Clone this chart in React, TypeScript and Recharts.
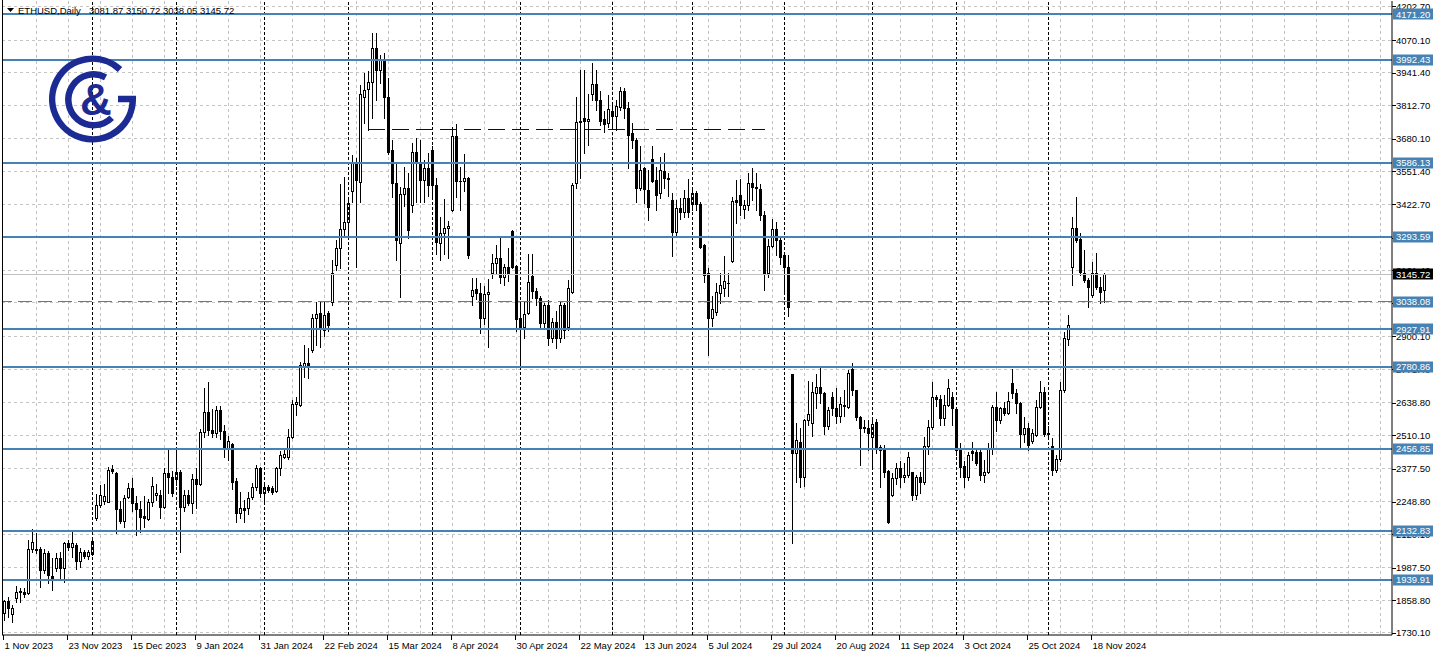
import React from 'react'
import { ComposedChart, Bar, XAxis, YAxis, CartesianGrid, ReferenceLine } from 'recharts'

// ETHUSD daily candles, 1 Nov 2023 .. 21 Nov 2024 (weekdays)
const OPEN = [
  1810, 1856, 1804, 1867, 1890, 1893, 1889, 2060, 2060, 2060, 1978, 2047, 1955, 1985, 2025, 1985, 2087, 2068, 2078, 2016,
  2051, 2032, 2041, 2183, 2235, 2252, 2248, 2378, 2360, 2218, 2173, 2265, 2301, 2242, 2218, 2190, 2180, 2248, 2276, 2275,
  2226, 2360, 2347, 2339, 2366, 2226, 2275, 2242, 2336, 2318, 2524, 2603, 2531, 2520, 2610, 2528, 2459, 2476, 2330, 2203,
  2222, 2222, 2266, 2305, 2380, 2281, 2305, 2301, 2291, 2380, 2426, 2426, 2502, 2634, 2630, 2782, 2797, 2847, 2972, 2992,
  2926, 2992, 3037, 3182, 3248, 3323, 3351, 3475, 3586, 3511, 3845, 3876, 3906, 4039, 3952, 3994, 3844, 3636, 3505, 3270,
  3462, 3485, 3419, 3630, 3584, 3518, 3564, 3636, 3498, 3270, 3307, 3327, 3399, 3691, 3515, 3512, 3524, 3060, 3086, 3071,
  2974, 3068, 3149, 3189, 3209, 3134, 3173, 3317, 3178, 2972, 2936, 2991, 3139, 3081, 3051, 2952, 3024, 2893, 2958, 2893,
  3024, 2939, 3075, 3505, 3748, 3761, 3752, 3857, 3897, 3833, 3758, 3741, 3790, 3772, 3805, 3868, 3800, 3702, 3675, 3487,
  3564, 3478, 3600, 3517, 3465, 3553, 3522, 3439, 3314, 3408, 3392, 3445, 3422, 3465, 3422, 3261, 3150, 2975, 2998, 3070,
  3093, 3113, 3198, 3439, 3460, 3402, 3419, 3505, 3492, 3481, 3379, 3152, 3257, 3323, 3281, 3222, 3173, 2752, 2439, 2485,
  2345, 2571, 2557, 2678, 2700, 2676, 2545, 2663, 2617, 2586, 2629, 2623, 2771, 2689, 2584, 2544, 2538, 2502, 2564, 2465,
  2459, 2371, 2275, 2341, 2380, 2347, 2353, 2367, 2275, 2344, 2327, 2468, 2544, 2662, 2652, 2577, 2630, 2663, 2613, 2452,
  2389, 2344, 2447, 2445, 2445, 2353, 2367, 2455, 2620, 2570, 2617, 2600, 2718, 2676, 2637, 2515, 2541, 2489, 2511, 2620,
  2682, 2521, 2468, 2373, 2415, 2689, 2889, 3176, 3327, 3284, 3150, 3123, 3064, 3152, 3097, 3081.87,
]
const HIGH = [
  1862, 1873, 1840, 1915, 1909, 1908, 2097, 2139, 2125, 2070, 2062, 2054, 2026, 2045, 2050, 2090, 2097, 2136, 2085, 2066,
  2058, 2058, 2100, 2277, 2314, 2320, 2384, 2393, 2367, 2250, 2275, 2321, 2340, 2271, 2252, 2270, 2260, 2345, 2320, 2295,
  2380, 2452, 2371, 2452, 2373, 2296, 2296, 2357, 2380, 2537, 2696, 2722, 2613, 2627, 2625, 2551, 2506, 2481, 2340, 2288,
  2255, 2288, 2321, 2395, 2387, 2314, 2314, 2310, 2387, 2448, 2462, 2535, 2650, 2660, 2800, 2866, 2856, 2990, 3037, 3037,
  3037, 3000, 3202, 3281, 3502, 3530, 3446, 3616, 3603, 3892, 3939, 3949, 4097, 4097, 4010, 4018, 3920, 3675, 3590, 3491,
  3568, 3544, 3665, 3682, 3675, 3597, 3623, 3650, 3524, 3370, 3442, 3355, 3726, 3738, 3568, 3620, 3530, 3131, 3131, 3110,
  3100, 3126, 3227, 3262, 3294, 3185, 3248, 3320, 3182, 3024, 3037, 3225, 3225, 3090, 3060, 3031, 3044, 2972, 2999, 3037,
  3031, 3122, 3507, 3847, 3952, 3950, 3858, 3978, 3950, 3870, 3789, 3853, 3813, 3833, 3886, 3880, 3826, 3742, 3684, 3653,
  3570, 3557, 3653, 3567, 3609, 3626, 3545, 3467, 3439, 3448, 3480, 3520, 3490, 3475, 3430, 3264, 3169, 3060, 3110, 3150,
  3219, 3150, 3452, 3518, 3522, 3438, 3544, 3564, 3544, 3502, 3396, 3283, 3363, 3353, 3289, 3226, 3222, 2752, 2557, 2538,
  2575, 2726, 2722, 2752, 2781, 2682, 2623, 2680, 2696, 2661, 2689, 2766, 2797, 2689, 2586, 2570, 2570, 2570, 2574, 2471,
  2471, 2374, 2361, 2400, 2407, 2400, 2446, 2367, 2353, 2367, 2504, 2570, 2722, 2670, 2668, 2670, 2731, 2682, 2617, 2478,
  2409, 2445, 2485, 2460, 2457, 2412, 2478, 2630, 2682, 2623, 2643, 2682, 2771, 2692, 2643, 2583, 2557, 2537, 2649, 2726,
  2700, 2545, 2498, 2432, 2722, 2919, 2985, 3373, 3452, 3307, 3240, 3130, 3196, 3228, 3136, 3150.72,
]
const LOW = [
  1781, 1794, 1775, 1854, 1854, 1872, 1884, 2051, 2046, 1913, 1967, 1926, 1900, 1975, 1943, 1933, 2058, 2031, 1982, 1992,
  2027, 2024, 2036, 2175, 2229, 2240, 2248, 2363, 2123, 2165, 2147, 2262, 2210, 2117, 2130, 2150, 2175, 2230, 2255, 2183,
  2222, 2281, 2270, 2314, 2051, 2210, 2237, 2202, 2222, 2315, 2505, 2511, 2505, 2505, 2497, 2426, 2414, 2300, 2169, 2183,
  2169, 2200, 2258, 2294, 2266, 2250, 2287, 2280, 2288, 2353, 2420, 2416, 2501, 2590, 2625, 2742, 2738, 2837, 2866, 2859,
  2901, 2921, 3025, 3163, 3169, 3297, 3297, 3432, 3176, 3432, 3742, 3715, 3762, 3833, 3900, 3762, 3620, 3450, 3202, 3057,
  3416, 3288, 3392, 3431, 3431, 3431, 3455, 3455, 3225, 3200, 3225, 3210, 3396, 3450, 3400, 3474, 3210, 3024, 3048, 2912,
  2950, 2860, 3131, 3149, 3110, 3103, 3121, 3170, 2920, 2781, 2893, 2987, 3052, 3024, 2929, 2929, 2865, 2880, 2854, 2880,
  2893, 2925, 3070, 3485, 3524, 3625, 3655, 3833, 3794, 3734, 3707, 3726, 3726, 3715, 3794, 3762, 3564, 3645, 3432, 3478,
  3426, 3360, 3510, 3400, 3445, 3487, 3454, 3216, 3300, 3365, 3370, 3370, 3400, 3400, 3250, 3116, 2827, 2940, 2985, 3032,
  3060, 3060, 3195, 3347, 3380, 3366, 3399, 3438, 3399, 3360, 3083, 3136, 3254, 3222, 3187, 3070, 2981, 2084, 2327, 2308,
  2310, 2551, 2507, 2617, 2636, 2515, 2536, 2590, 2557, 2564, 2585, 2617, 2670, 2570, 2393, 2523, 2451, 2389, 2440, 2308,
  2347, 2165, 2271, 2320, 2308, 2324, 2347, 2255, 2257, 2284, 2320, 2438, 2536, 2627, 2549, 2549, 2626, 2549, 2432, 2344,
  2307, 2334, 2412, 2393, 2334, 2327, 2360, 2438, 2526, 2557, 2591, 2594, 2656, 2599, 2455, 2484, 2451, 2480, 2507, 2617,
  2507, 2507, 2353, 2367, 2409, 2682, 2866, 3103, 3274, 3143, 3117, 3018, 3055, 3086, 3031, 3038.05,
]
const CLOSE = [
  1858, 1830, 1828, 1893, 1896, 1884, 2060, 2090, 2058, 1978, 2047, 1959, 1942, 2025, 1985, 2084, 2071, 2087, 2014, 2051,
  2035, 2049, 2094, 2235, 2275, 2270, 2373, 2370, 2218, 2173, 2261, 2301, 2245, 2218, 2187, 2182, 2248, 2310, 2283, 2226,
  2360, 2344, 2284, 2366, 2228, 2275, 2245, 2336, 2318, 2524, 2603, 2531, 2520, 2610, 2528, 2459, 2489, 2327, 2203, 2222,
  2215, 2262, 2305, 2380, 2281, 2305, 2295, 2288, 2380, 2432, 2435, 2505, 2634, 2640, 2788, 2795, 2787, 2972, 2989, 2933,
  2985, 2945, 3149, 3248, 3323, 3353, 3426, 3586, 3518, 3857, 3874, 3906, 4039, 3952, 3991, 3844, 3629, 3505, 3281, 3462,
  3485, 3320, 3630, 3584, 3518, 3564, 3498, 3498, 3274, 3307, 3327, 3336, 3691, 3515, 3512, 3527, 3221, 3084, 3071, 2972,
  3068, 3077, 3191, 3209, 3136, 3176, 3147, 3176, 2968, 2939, 2989, 3116, 3081, 3051, 2952, 3024, 2893, 2958, 2893, 3024,
  2925, 3090, 3498, 3748, 3752, 3750, 3760, 3897, 3833, 3750, 3738, 3798, 3772, 3811, 3868, 3802, 3695, 3675, 3487, 3557,
  3482, 3412, 3513, 3458, 3557, 3527, 3524, 3311, 3408, 3392, 3445, 3392, 3465, 3422, 3255, 3143, 2972, 3010, 3075, 3103,
  3119, 3110, 3435, 3432, 3419, 3419, 3505, 3492, 3485, 3379, 3152, 3257, 3323, 3281, 3215, 3173, 3018, 2439, 2491, 2347,
  2571, 2594, 2682, 2700, 2678, 2545, 2610, 2617, 2586, 2633, 2626, 2755, 2689, 2581, 2538, 2538, 2518, 2554, 2465, 2452,
  2367, 2169, 2341, 2380, 2347, 2353, 2426, 2275, 2344, 2327, 2468, 2544, 2663, 2652, 2577, 2630, 2696, 2617, 2452, 2386,
  2344, 2432, 2441, 2400, 2353, 2367, 2455, 2620, 2570, 2617, 2600, 2647, 2676, 2637, 2515, 2538, 2472, 2518, 2620, 2682,
  2515, 2515, 2373, 2415, 2689, 2893, 2945, 3327, 3281, 3156, 3123, 3094, 3149, 3094, 3077, 3145.72,
]

const PRICE_TICKS = [
  4202.7, 4070.1, 3941.4, 3812.7, 3680.1, 3551.4, 3422.7, 3290.1, 3161.4, 3032.7,
  2900.1, 2771.4, 2638.8, 2510.1, 2377.5, 2248.8, 2120.1, 1987.5, 1858.8, 1730.1,
]
const LEVELS = [4171.2, 3992.43, 3586.13, 3293.59, 2927.91, 2780.86, 2456.85, 2132.83, 1939.91]
const ENTRY_LEVEL = 3038.08
const LAST_PRICE = 3145.72
const SWING_LEVEL = 3718.9
const SWING_FROM = 90.9
const SWING_TO = 190

const DATE_LABELS = [
  '1 Nov 2023', '23 Nov 2023', '15 Dec 2023', '9 Jan 2024', '31 Jan 2024', '22 Feb 2024',
  '15 Mar 2024', '8 Apr 2024', '30 Apr 2024', '22 May 2024', '13 Jun 2024', '5 Jul 2024',
  '29 Jul 2024', '20 Aug 2024', '11 Sep 2024', '3 Oct 2024', '25 Oct 2024', '18 Nov 2024',
]
const DATE_TICKS = [0, 16, 32, 48, 64, 80, 96, 112, 128, 144, 160, 176, 192, 208, 224, 240, 256, 272]
const MONTH_STARTS = [22, 43, 65, 86, 107, 129, 152, 172, 195, 217, 238, 261]

const data = OPEN.map((open, i) => ({ i, open, high: HIGH[i], low: LOW[i], close: CLOSE[i] }))

const gridX: number[] = []
for (let k = 8; k < 347; k += 8) gridX.push(k)

const FONT = '"Liberation Sans", Arial, sans-serif'
const LEVEL_BLUE = '#4682b4'
const LOGO_BLUE = '#1c2a93'

function Candle(props: any) {
  const { x, y, width, height, payload } = props
  if (!payload) return null
  const { open, close, high, low } = payload
  const top = Math.min(y, y + height)
  const h = Math.abs(height)
  const cx = Math.round(x + width / 2) + 0.5
  const span = high - low || 1
  const py = (v: number) => top + ((high - v) / span) * h
  const bt = Math.round(py(Math.max(open, close))) + 0.5
  const bb = Math.round(py(Math.min(open, close))) + 0.5
  const up = close >= open
  return (
    <g>
      <line x1={cx} x2={cx} y1={Math.round(top)} y2={Math.round(top + h) + 1} stroke="#000" strokeWidth={1} />
      {bb - bt < 1 ? (
        <line x1={cx - 1.5} x2={cx + 1.5} y1={bt} y2={bt} stroke="#000" strokeWidth={1} />
      ) : (
        <rect x={cx - 1} y={bt} width={2} height={bb - bt} fill={up ? '#fff' : '#000'} stroke="#000" strokeWidth={1} />
      )}
    </g>
  )
}

function PriceTick(props: any) {
  const { x, y, payload } = props
  const v = payload.value as number
  const isLevel = LEVELS.includes(v) || v === ENTRY_LEVEL
  const isLast = v === LAST_PRICE
  if (isLevel || isLast) {
    return (
      <g>
        <rect x={x + 1} y={Math.round(y) - 5.5} width={40} height={11} fill={isLast ? '#000' : LEVEL_BLUE} />
        <text x={x + 4} y={y + 3.5} fill="#fff" fontSize={9.5} fontFamily={FONT}>
          {v.toFixed(2)}
        </text>
      </g>
    )
  }
  return (
    <g>
      <line x1={x} x2={x + 4} y1={Math.round(y) + 0.5} y2={Math.round(y) + 0.5} stroke="#000" />
      <text x={x + 4} y={y + 3.5} fill="#000" fontSize={9.5} fontFamily={FONT}>
        {v.toFixed(2)}
      </text>
    </g>
  )
}

function DateTick(props: any) {
  const { x, y, payload } = props
  const k = DATE_TICKS.indexOf(payload.value)
  const tx = Math.round(x - 1.5) + 0.5
  return (
    <g>
      <line x1={tx} x2={tx} y1={y} y2={y + 5} stroke="#000" />
      <text x={tx + 1} y={y + 14} fill="#000" fontSize={9.5} fontFamily={FONT}>
        {DATE_LABELS[k]}
      </text>
    </g>
  )
}

function arc(cx: number, cy: number, r: number, a0: number, a1: number) {
  const p = (a: number) => [cx + r * Math.cos((a * Math.PI) / 180), cy + r * Math.sin((a * Math.PI) / 180)]
  const [x0, y0] = p(a0)
  const [x1, y1] = p(a1)
  return `M${x0.toFixed(1)},${y0.toFixed(1)} A${r},${r} 0 1 0 ${x1.toFixed(1)},${y1.toFixed(1)}`
}

export default function App() {
  return (
    <div style={{ position: 'absolute', left: 0, top: 0, width: 1438, height: 658, background: '#fff' }}>
      <ComposedChart width={1438} height={658} data={data} margin={{ top: 1, right: 0, left: 2, bottom: 0 }}>
        <CartesianGrid
          stroke="#c4c4c4"
          strokeDasharray="3 3"
          shapeRendering="crispEdges"
          horizontalValues={PRICE_TICKS}
          verticalValues={gridX}
        />
        <XAxis
          type="number"
          dataKey="i"
          domain={[-0.625, 346.875]}
          allowDataOverflow
          ticks={DATE_TICKS}
          interval={0}
          tickLine={false}
          tickSize={0}
          tickMargin={0}
          height={23}
          axisLine={{ stroke: '#000' }}
          tick={<DateTick />}
        />
        <YAxis
          orientation="right"
          type="number"
          domain={[1722.2, 4224.0]}
          allowDataOverflow
          ticks={[...PRICE_TICKS, ...LEVELS, ENTRY_LEVEL, LAST_PRICE]}
          interval={0}
          tickLine={false}
          tickSize={0}
          tickMargin={0}
          width={46}
          axisLine={{ stroke: '#000' }}
          tick={<PriceTick />}
        />
        {MONTH_STARTS.map((m) => (
          <ReferenceLine key={'m' + m} x={m} stroke="#000" strokeDasharray="3 2" shapeRendering="crispEdges" />
        ))}
        <Bar dataKey={(d: any) => [d.low, d.high]} barSize={3} shape={<Candle />} isAnimationActive={false} />
        <ReferenceLine y={LAST_PRICE} stroke="#c0c0c0" shapeRendering="crispEdges" />
        <ReferenceLine y={ENTRY_LEVEL} stroke={LEVEL_BLUE} strokeDasharray="14 6" shapeRendering="crispEdges" />
        <ReferenceLine
          segment={[
            { x: SWING_FROM, y: SWING_LEVEL },
            { x: SWING_TO, y: SWING_LEVEL },
          ]}
          stroke="#000080"
          strokeDasharray="17 7"
          shapeRendering="crispEdges"
        />
        {LEVELS.map((l) => (
          <ReferenceLine key={'l' + l} y={l} stroke={LEVEL_BLUE} strokeWidth={2} shapeRendering="crispEdges" />
        ))}
      </ComposedChart>
      <svg
        width={1438}
        height={658}
        style={{ position: 'absolute', left: 0, top: 0, pointerEvents: 'none' }}
      >
        <line x1={2.5} x2={2.5} y1={0} y2={635} stroke="#000" />
        <polygon points="7,8 14,8 10.5,12" fill="#000" />
        <text x={18} y={14} fontSize={9.5} fontFamily={FONT} fill="#000">
          ETHUSD,Daily
        </text>
        <text x={89} y={14} fontSize={9.5} fontFamily={FONT} fill="#000">
          3081.87 3150.72 3038.05 3145.72
        </text>
        <g fill="none" stroke={LOGO_BLUE} strokeWidth={6.5}>
          <path d={arc(92.5, 99, 40.3, -47, 0) + ' L118,99'} />
          <path d={arc(93.7, 99.7, 25.4, -62, 45)} />
        </g>
        <text x={80} y={115} fontSize={44} fontWeight="bold" fontFamily={FONT} fill={LOGO_BLUE}>
          &amp;
        </text>
      </svg>
    </div>
  )
}
